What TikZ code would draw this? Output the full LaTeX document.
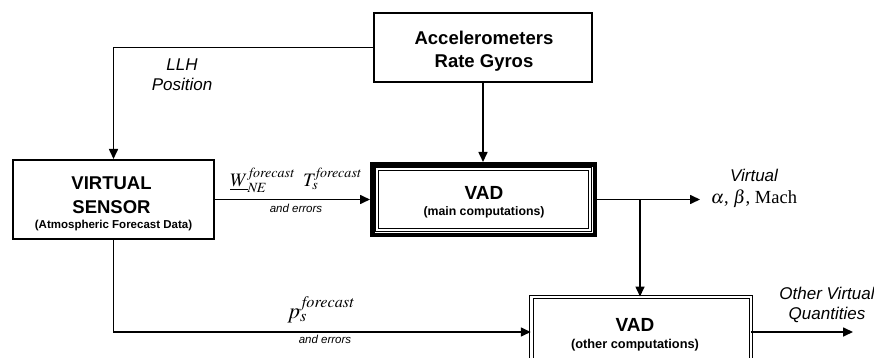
\documentclass[tikz,border=0pt]{standalone}
\usepackage{mathptmx}
\usepackage[no-math]{fontspec}
\setmainfont{Liberation Sans}
\newfontfamily\serifrm{Liberation Serif}
\usetikzlibrary{arrows.meta}
\begin{document}
\begin{tikzpicture}[x=1pt,y=-1pt,
  line width=1.6pt,
  arr/.style={-{Triangle[length=10pt,width=9pt]}},
  box/.style={draw, line width=1.6pt, rectangle, inner sep=0pt},
  txt/.style={align=center, inner sep=0pt},
  bigbold/.style={font=\fontsize{18.5}{22}\selectfont\bfseries},
  lab/.style={font=\fontsize{17}{20}\selectfont\itshape, align=center, inner sep=0pt},
  smalllab/.style={font=\fontsize{11.5}{13}\selectfont\itshape, inner sep=0pt},
]
\useasboundingbox[fill=white] (0,0) rectangle (874,358);

% boxes
\node[box, minimum width=218.4pt, minimum height=69.4pt] (acc) at (483,47.5) {};
\node[txt, bigbold] (acct) at (484,51) {Accelerometers\\[0.5pt]Rate Gyros};

\node[box, minimum width=201.4pt, minimum height=79.4pt] (vs) at (113.5,199.5) {};
\node[txt, bigbold] (vst) at (111.5,195) {VIRTUAL\\[1.5pt]SENSOR};
\node[txt, font=\fontsize{11.5}{14}\selectfont\bfseries] (vst2) at (113.5,226) {(Atmospheric Forecast Data)};

\node[box, line width=4.5pt, minimum width=222.5pt, minimum height=70.5pt] (vadm) at (483.5,199.5) {};
\draw[line width=0.8pt, double, double distance=1.6pt]
  ([shift={(7,7)}]vadm.north west) rectangle ([shift={(-7,-7)}]vadm.south east);
\node[txt, font=\fontsize{19}{20}\selectfont\bfseries] (vadmt) at (484,193) {VAD};
\node[txt, font=\fontsize{12.3}{14}\selectfont\bfseries] (vadmt2) at (484,212) {(main computations)};

\node[box, line width=1pt, double, double distance=2.5pt, minimum width=219.5pt, minimum height=70pt] (vado) at (641,332) {};
\node[txt, font=\fontsize{19}{20}\selectfont\bfseries] (vadot) at (635,325) {VAD};
\node[txt, font=\fontsize{12.8}{14}\selectfont\bfseries] (vadot2) at (635,345) {(other computations)};

% connectors
\draw[arr] (acc.west) -| (vs.north);
\draw[arr] (acc.south) -- (acc.south |- vadm.north);
\draw[arr] (vs.east) -- (vadm.west);
\coordinate (o1) at (700,199.5);
\coordinate (br) at (640,199.5);
\draw[arr] (vadm.east) -- (o1);
\draw[arr] (br) -- (br |- vado.north);
\draw[arr] (vs.south) |- (vado.west);
\coordinate (o2) at (853,332);
\draw[arr] (vado.east) -- (o2);

% labels
\node[lab] (llh) at (182,75) {LLH\\Position};
\node[inner sep=0pt, font=\fontsize{19}{22}\selectfont] (wl) at (296,180)
  {$\underline{W}_{\mathit{NE}}^{\,\mathit{forecast}}\;\;T_s^{\mathit{forecast}}$};
\node[smalllab] (e1) at (296,208) {and errors};
\node[inner sep=0pt, font=\fontsize{22}{24}\selectfont] (pl) at (321,310)
  {$p_s^{\,\mathit{forecast}}$};
\node[smalllab] (e2) at (325,339) {and errors};
\node[lab] (virt) at (754,175) {Virtual};
\node[inner sep=0pt, anchor=west, font=\fontsize{18.5}{20}\selectfont\serifrm] (amach) at (710,199)
  {$\alpha$, $\beta$, Mach};
\node[lab] (ovq) at (827,305) {Other Virtual\\Quantities};
\end{tikzpicture}
\end{document}
